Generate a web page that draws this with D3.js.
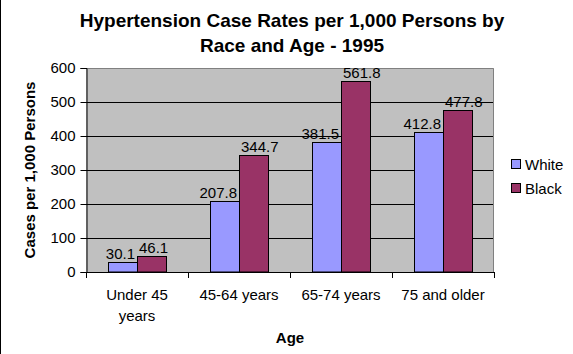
<!DOCTYPE html>
<html>
<head>
<meta charset="utf-8">
<script src="https://cdn.jsdelivr.net/npm/d3@7"></script>
<style>
  body { margin: 0; background: #fff; }
  svg { display: block; font-family: "Liberation Sans", Arial, sans-serif; }
  .tick-label { font-size: 15px; fill: #000; }
  .bold { font-weight: bold; }
</style>
</head>
<body>
<svg id="chart" width="573" height="354"></svg>
<script>
// chart data
const ageGroups = [["Under 45", "years"], ["45-64 years"], ["65-74 years"], ["75 and older"]];
const races = ["White", "Black"];
const whiteRates = [30.1, 207.8, 381.5, 412.8];
const blackRates = [46.1, 344.7, 561.8, 477.8];
const yTicks = [0, 100, 200, 300, 400, 500, 600];

const colours = { White: "#9999ff", Black: "#993366" };

const svg = d3.select("#chart");

// left frame line of the picture
svg.append("line")
    .attr("x1", 0.5).attr("x2", 0.5)
    .attr("y1", 0).attr("y2", 354)
    .attr("stroke", "#000");

const plot = { left: 86, right: 494, top: 68, bottom: 272 };

const yScale = d3.scaleLinear()
    .domain([0, 600])
    .range([plot.bottom, plot.top]);

const keys = ageGroups.map(d => d.join(" "));
const xScale = d3.scaleBand()
    .domain(keys)
    .range([plot.left, plot.right]);

const xInner = d3.scaleBand()
    .domain(races)
    .range([0, xScale.bandwidth()])
    .paddingInner(0)
    .paddingOuter(0.76);

// plot background
svg.append("rect")
    .attr("x", plot.left).attr("y", plot.top)
    .attr("width", plot.right - plot.left)
    .attr("height", plot.bottom - plot.top)
    .attr("fill", "#c0c0c0");

// grid lines
svg.append("g").selectAll("line")
    .data(yTicks.filter(t => t > 0 && t < 600))
  .join("line")
    .attr("x1", plot.left).attr("x2", plot.right)
    .attr("y1", d => Math.round(yScale(d)) + 0.5)
    .attr("y2", d => Math.round(yScale(d)) + 0.5)
    .attr("stroke", "#000");

// grey border on top and right
svg.append("path")
    .attr("d", `M${plot.left},${plot.top + 0.5}H${plot.right - 0.5}V${plot.bottom}`)
    .attr("fill", "none")
    .attr("stroke", "#808080");

// bars
const rows = keys.map((k, i) => ({ key: k, White: whiteRates[i], Black: blackRates[i] }));

const groups = svg.append("g").selectAll("g")
    .data(rows)
  .join("g")
    .attr("transform", d => `translate(${xScale(d.key)},0)`);

groups.selectAll("rect")
    .data(d => races.map(r => ({ race: r, value: d[r] })))
  .join("rect")
    .attr("x", d => Math.round(xInner(d.race)) + 0.5)
    .attr("y", d => Math.round(yScale(d.value)) + 0.5)
    .attr("width", Math.round(xInner.bandwidth()))
    .attr("height", d => plot.bottom - Math.round(yScale(d.value)) - 0.5)
    .attr("fill", d => colours[d.race])
    .attr("stroke", "#000");

// value labels: White ones hug the right side, Black ones the left side
groups.selectAll("text")
    .data(d => races.map(r => ({ race: r, value: d[r] })))
  .join("text")
    .attr("class", "tick-label")
    .attr("x", d => d.race === "White"
        ? xInner(d.race) + xInner.bandwidth() - 2
        : xInner(d.race) + 2)
    .attr("y", d => yScale(d.value) - 3)
    .attr("text-anchor", d => d.race === "White" ? "end" : "start")
    .text(d => d.value.toFixed(1));

// y axis
const yAxis = d3.axisLeft(yScale)
    .tickValues(yTicks)
    .tickSize(6)
    .tickPadding(5);

const yAxisG = svg.append("g")
    .attr("transform", `translate(${plot.left + 0.5},0)`)
    .call(yAxis);
yAxisG.select(".domain").attr("stroke", "#000");
yAxisG.selectAll(".tick line").attr("stroke", "#000");
yAxisG.selectAll(".tick text")
    .attr("class", "tick-label")
    .attr("font-family", null)
    .attr("font-size", null);

// x axis line and boundary ticks
svg.append("line")
    .attr("x1", plot.left).attr("x2", plot.right)
    .attr("y1", plot.bottom + 0.5).attr("y2", plot.bottom + 0.5)
    .attr("stroke", "#000");

const edges = keys.map(k => xScale(k)).concat([plot.right]);
svg.append("g").selectAll("line")
    .data(edges)
  .join("line")
    .attr("x1", d => Math.round(d) + 0.5).attr("x2", d => Math.round(d) + 0.5)
    .attr("y1", plot.bottom).attr("y2", plot.bottom + 6)
    .attr("stroke", "#000");

// category labels
const catLabels = svg.append("g").selectAll("text")
    .data(ageGroups)
  .join("text")
    .attr("class", "tick-label")
    .attr("text-anchor", "middle")
    .attr("y", 300);
catLabels.each(function(lines, i) {
  const x = xScale(keys[i]) + xScale.bandwidth() / 2;
  d3.select(this).selectAll("tspan")
      .data(lines)
    .join("tspan")
      .attr("x", x)
      .attr("dy", (d, j) => j === 0 ? 0 : 21)
      .text(d => d);
});

// axis titles
svg.append("text")
    .attr("class", "tick-label bold")
    .attr("text-anchor", "middle")
    .attr("x", 290).attr("y", 343)
    .text("Age");

svg.append("text")
    .attr("class", "tick-label bold")
    .attr("text-anchor", "middle")
    .attr("transform", `translate(35,${(plot.top + plot.bottom) / 2}) rotate(-90)`)
    .text("Cases per 1,000 Persons");

// title
const title = svg.append("text")
    .attr("class", "bold")
    .attr("font-size", 19)
    .attr("text-anchor", "middle")
    .attr("y", 27);
title.selectAll("tspan")
    .data(["Hypertension Case Rates per 1,000 Persons by", "Race and Age - 1995"])
  .join("tspan")
    .attr("x", 292)
    .attr("dy", (d, i) => i === 0 ? 0 : 25)
    .text(d => d);

// legend
const legend = svg.append("g").selectAll("g")
    .data(races)
  .join("g")
    .attr("transform", (d, i) => `translate(511,${164 + i * 24})`);
legend.append("rect")
    .attr("x", 0.5).attr("y", -4.5)
    .attr("width", 9).attr("height", 9)
    .attr("fill", d => colours[d])
    .attr("stroke", "#000");
legend.append("text")
    .attr("class", "tick-label")
    .attr("x", 14).attr("y", 5.5)
    .text(d => d);
</script>
</body>
</html>
